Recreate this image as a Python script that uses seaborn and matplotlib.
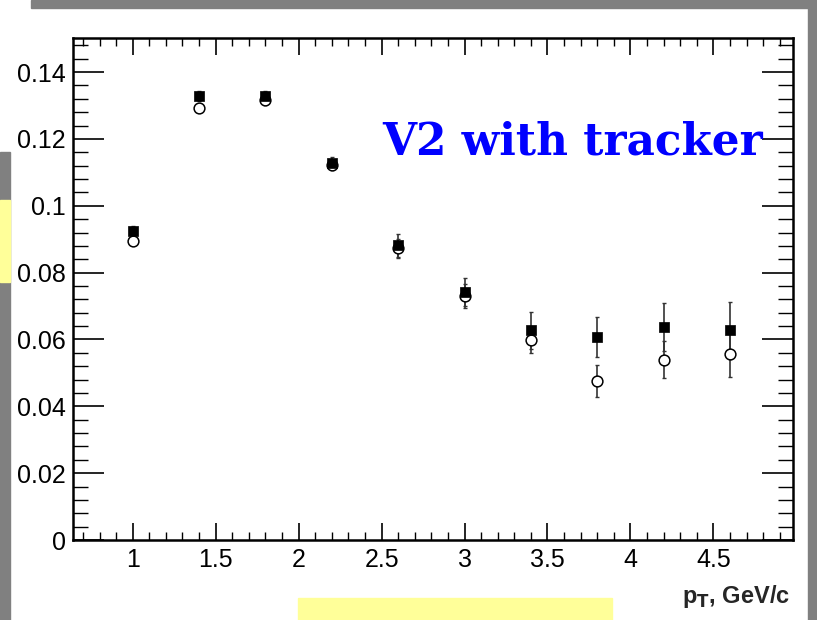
import pandas as pd
import numpy as np
import matplotlib.pyplot as plt
import seaborn as sns
from matplotlib.patches import Rectangle
from matplotlib.ticker import MultipleLocator

# values
pt = [1.0, 1.4, 1.8, 2.2, 2.6, 3.0, 3.4, 3.8, 4.2, 4.6]
v2_filled = [0.0925, 0.1328, 0.1327, 0.1127, 0.0882, 0.0742, 0.0627, 0.0607, 0.0636, 0.0627]
err_filled = [0.0015, 0.0015, 0.0015, 0.0018, 0.0035, 0.0043, 0.0055, 0.0060, 0.0072, 0.0084]
v2_open = [0.0895, 0.1292, 0.1315, 0.1122, 0.0873, 0.0730, 0.0597, 0.0477, 0.0540, 0.0556]
err_open = [0.0012, 0.0012, 0.0012, 0.0016, 0.0028, 0.0035, 0.0036, 0.0048, 0.0055, 0.0068]
xticks = [1, 1.5, 2, 2.5, 3, 3.5, 4, 4.5]
yticks = [0, 0.02, 0.04, 0.06, 0.08, 0.1, 0.12, 0.14]
ytick_labels = ["0", "0.02", "0.04", "0.06", "0.08", "0.1", "0.12", "0.14"]

df = pd.DataFrame({
    "pt": pt + pt,
    "v2": v2_filled + v2_open,
    "set": ["filled"] * len(pt) + ["open"] * len(pt),
})

sns.set_style("ticks")
plt.rcParams['font.family'] = ['Liberation Sans', 'DejaVu Sans']

fig = plt.figure(figsize=(8.17, 6.2), dpi=100)
ax = fig.add_axes([73 / 817, 1 - 540 / 620, (793 - 73) / 817, (540 - 38) / 620])

#error bars first
ax.errorbar(pt, v2_open, yerr=err_open, fmt="none", ecolor="#333333", elinewidth=1.2, capsize=1.5, zorder=2)
ax.errorbar(pt, v2_filled, yerr=err_filled, fmt="none", ecolor="#333333", elinewidth=1.2, capsize=1.5, zorder=2)

sns.scatterplot(data=df[df["set"] == "open"], x="pt", y="v2", ax=ax, marker="o", s=60,
                facecolor="white", edgecolor="black", linewidth=1.1, zorder=3, legend=False)
sns.scatterplot(data=df[df["set"] == "filled"], x="pt", y="v2", ax=ax, marker="s", s=55,
                color="black", edgecolor="black", linewidth=0.5, zorder=4, legend=False)

ax.set_xlim(0.64, 4.98)
ax.set_ylim(0, 0.1502)
ax.set_xticks(xticks)
ax.set_xticklabels([str(t) for t in xticks])
ax.set_yticks(yticks)
ax.set_yticklabels(ytick_labels)
ax.xaxis.set_minor_locator(MultipleLocator(0.1))
ax.yaxis.set_minor_locator(MultipleLocator(0.004))
ax.tick_params(axis="both", which="both", direction="in", top=True, right=True, colors="black", labelsize=18)
ax.tick_params(axis="x", which="major", length=12, width=1.2, pad=6)
ax.tick_params(axis="x", which="minor", length=6, width=1.0)
ax.tick_params(axis="y", which="major", length=22, width=1.2, pad=5)
ax.tick_params(axis="y", which="minor", length=11, width=1.0)
for s in ax.spines.values():
    s.set_linewidth(1.8)
    s.set_color("black")
ax.set_xlabel("")
ax.set_ylabel("")

fig.text(763 / 817, 1 - 142 / 620, "V2 with tracker", ha="right", va="center",
         color="#0000ff", fontsize=31.5, fontweight="bold", family=["DejaVu Serif"])

fig.text(790 / 817, 1 - 596 / 620, "p$_\\mathbf{T}$, GeV/c", ha="right", va="center",
         fontsize=17, fontweight="bold")

# slide bits around the plot
fig.patches.append(Rectangle((31 / 817, 1 - 8 / 620), 1, 8 / 620, transform=fig.transFigure, color="#808080", zorder=0))
fig.patches.append(Rectangle((808 / 817, 0), 1, 1, transform=fig.transFigure, color="#808080", zorder=0))
fig.patches.append(Rectangle((0, 0), 10 / 817, 1 - 152 / 620, transform=fig.transFigure, color="#808080", zorder=0))
fig.patches.append(Rectangle((0, 1 - 282 / 620), 10 / 817, 82 / 620, transform=fig.transFigure, color="#ffff99", zorder=1))
fig.patches.append(Rectangle((298 / 817, 0), 314 / 817, 22 / 620, transform=fig.transFigure, color="#ffff99", zorder=0))

fig.savefig("out.png", dpi=100)
